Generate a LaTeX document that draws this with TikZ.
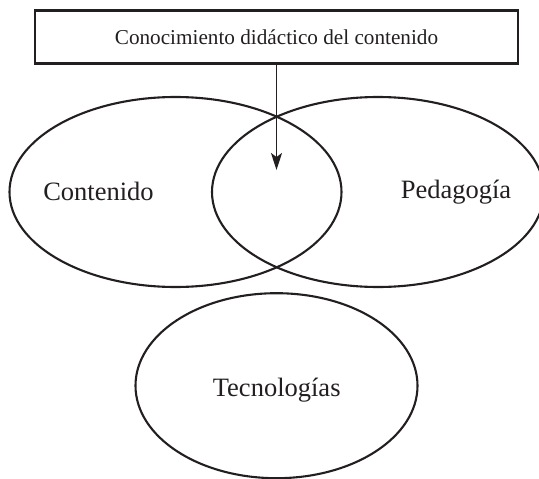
\documentclass[tikz,border=0pt]{standalone}
\usepackage{fontspec}
\setmainfont{Liberation Serif}
\usetikzlibrary{shapes.geometric,arrows.meta}
\definecolor{ink}{HTML}{231F20}
\begin{document}
\begin{tikzpicture}[x=1pt,y=-1pt,
  ring/.style={draw=ink,line width=2.1pt,ellipse,inner sep=0pt},
  biglabel/.style={text=ink,font=\fontsize{26.5}{30}\selectfont,inner sep=0pt},
  topbox/.style={draw=ink,line width=2.6pt,inner sep=0pt,text=ink,font=\fontsize{21.2}{25}\selectfont}]
\useasboundingbox (0,0) rectangle (539,479);
\node[topbox,minimum width=483pt,minimum height=53pt] (cdc) at (276.5,36.8) {Conocimiento didáctico del contenido};
\node[ring,minimum width=332pt,minimum height=190pt] (cont) at (175.5,192) {};
\node[ring,minimum width=332pt,minimum height=190pt] (ped) at (378,192) {};
\node[ring,minimum width=282pt,minimum height=185pt] (tec) at (276.5,385.7) {};
\node[biglabel] (lcont) at (98.5,191) {Contenido};
\node[biglabel] (lped) at (456,192) {Pedagogía};
\node[biglabel] (ltec) at (276.7,390) {Tecnologías};
\coordinate (tip) at (276.5,170);
\draw[ink,line width=1.7pt,-{Stealth[length=17pt,width=11pt,inset=4pt]}] (cdc.south) -- (tip);
\end{tikzpicture}
\end{document}
